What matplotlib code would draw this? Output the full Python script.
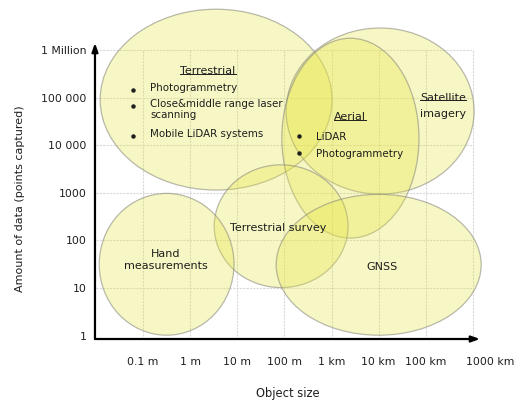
import matplotlib
matplotlib.use("Agg")
import matplotlib.pyplot as plt
from matplotlib.patches import Ellipse
from matplotlib.transforms import ScaledTranslation

# regions, in decades: log10(object size in m) and log10(points captured)
region_names = ["Terrestrial", "Satellite imagery", "Aerial",
                "Terrestrial survey", "Hand measurements", "GNSS"]
size_center = [0.55, 4.03, 3.40, 1.93, -0.50, 4.00]
size_span = [4.92, 3.99, 2.91, 2.84, 2.86, 4.35]
points_center = [4.96, 4.72, 4.15, 2.30, 1.50, 1.49]
points_span = [3.80, 3.49, 4.20, 2.58, 2.98, 2.96]

size_ticks = [-1, 0, 1, 2, 3, 4, 5, 6]
size_labels = ["0.1 m", "1 m", "10 m", "100 m", "1 km", "10 km", "100 km", "1000 km"]
points_ticks = [0, 1, 2, 3, 4, 5, 6]
points_labels = ["1", "10", "100", "1000", "10 000", "100 000", "1 Million"]

terrestrial_items = ["Photogrammetry", "Close&middle range laser\nscanning", "Mobile LiDAR systems"]
aerial_items = ["LiDAR", "Photogrammetry"]

plt.rcParams['font.family'] = ['DejaVu Sans']
txt = '#1e1e1e'

fig = plt.figure(figsize=(5.21, 4.03), dpi=100)
ax = fig.add_axes([0.1823, 0.1588, 0.739, 0.7345])
ax.set_xlim(-2.02, 6.15)
ax.set_ylim(-0.07, 6.15)
for s in ax.spines.values():
    s.set_visible(False)

# grid
ax.hlines(points_ticks[1:], -2, 6, colors='#d9d9d9', linewidth=0.8, linestyles=(0, (2, 1)), zorder=0)
ax.vlines(size_ticks, 0, 6, colors='#d9d9d9', linewidth=0.8, linestyles=(0, (2, 1)), zorder=0)

for i in range(len(region_names)):
    e = Ellipse((size_center[i], points_center[i]), size_span[i], points_span[i],
                facecolor=(0.9, 0.9, 0.25, 0.3), edgecolor=(0.55, 0.55, 0.5, 0.6),
                linewidth=0.9, clip_on=False, zorder=2)
    ax.add_patch(e)

# axes arrows
arrow = dict(arrowstyle='-|>,head_length=0.5,head_width=0.18', color='black', linewidth=1.6,
             shrinkA=0, shrinkB=0)
ax.annotate('', xy=(1, 0), xytext=(0, 0), xycoords='axes fraction', arrowprops=arrow)
ax.annotate('', xy=(0, 1), xytext=(0, 0), xycoords='axes fraction', arrowprops=arrow)

ax.set_xticks(size_ticks, size_labels, fontsize=7.8, color=txt)
ax.set_yticks(points_ticks, points_labels, fontsize=7.8, color=txt)
ax.tick_params(length=0, pad=13, axis='x')
ax.tick_params(length=0, pad=6, axis='y')
last = ax.get_xticklabels()[-1]
last.set_transform(last.get_transform() + ScaledTranslation(0.17, 0, fig.dpi_scale_trans))

fig.text(20 / 521, 0.506, "Amount of data (points captured)", rotation=90,
         ha='center', va='center', fontsize=8, color=txt)
fig.text(288 / 521, 1 - 393 / 403, "Object size", ha='center', va='center',
         fontsize=8.3, color=txt)

fs = 7.4
headers = []
headers.append(ax.text(0.378, 5.56, "Terrestrial", ha='center', va='center', fontsize=8, color=txt, zorder=5))
ys = [5.14, 4.80, 4.17]
for y, item in zip(ys, terrestrial_items):
    ax.plot(-1.213, y + 0.02, 'o', ms=2.2, color=txt, zorder=5)
    ax.text(-0.852, y + 0.17, item, ha='left', va='top', fontsize=fs, color=txt,
            linespacing=1.1, zorder=5)

headers.append(ax.text(3.39, 4.59, "Aerial", ha='center', va='center', fontsize=8, color=txt, zorder=5))
for y, item in zip([4.17, 3.82], aerial_items):
    ax.plot(2.308, y + 0.02, 'o', ms=2.2, color=txt, zorder=5)
    ax.text(2.669, y, item, ha='left', va='center', fontsize=fs, color=txt, zorder=5)

headers.append(ax.text(5.363, 5.00, "Satellite", ha='center', va='center', fontsize=8, color=txt, zorder=5))
ax.text(5.363, 4.66, "imagery", ha='center', va='center', fontsize=8, color=txt, zorder=5)

ax.text(1.863, 2.26, "Terrestrial survey", ha='center', va='center', fontsize=8, color=txt, zorder=5)
ax.text(-0.513, 1.58, "Hand\nmeasurements", ha='center', va='center', fontsize=8,
        color=txt, linespacing=1.25, zorder=5)
ax.text(4.069, 1.44, "GNSS", ha='center', va='center', fontsize=8, color=txt, zorder=5)

# underline the headers
fig.canvas.draw()
inv = ax.transData.inverted()
for t in headers:
    bb = t.get_window_extent()
    (x0, y0), (x1, _) = inv.transform([(bb.x0, bb.y0 + 2.5), (bb.x1, bb.y0 + 2.5)])
    ax.plot([x0, x1], [y0, y0], color=txt, linewidth=0.7, zorder=5)

fig.savefig("out.png", dpi=100)
